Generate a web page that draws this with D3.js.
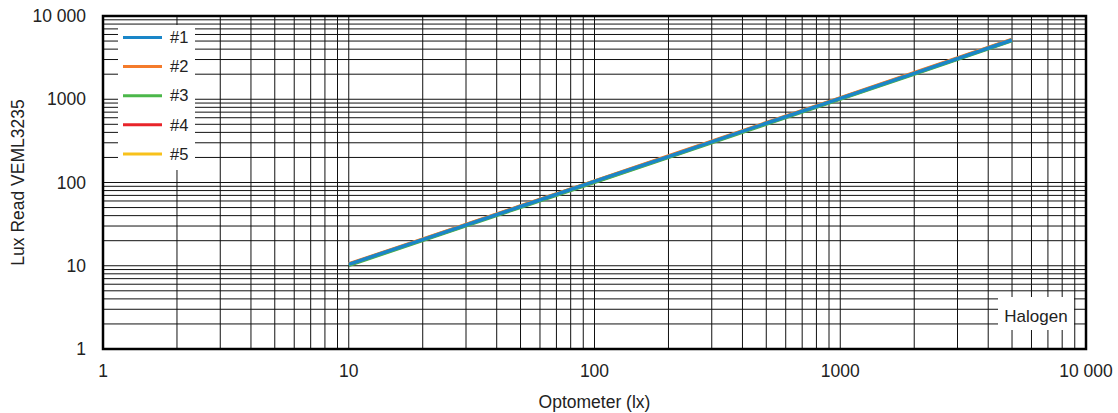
<!DOCTYPE html>
<html>
<head>
<meta charset="utf-8">
<script src="https://cdn.jsdelivr.net/npm/d3@7"></script>
<style>
  body { margin: 0; background: #fff; }
  text { font-family: "Liberation Sans", Arial, sans-serif; fill: #222; }
</style>
</head>
<body>
<div id="chart"></div>
<script>
const optometer = [10, 20, 50, 100, 200, 500, 1000, 2000, 5000];
const series1 = [10.4, 20.6, 51.5, 103, 205, 515, 1025, 2050, 5150];
const series2 = [10.5, 20.9, 52.2, 104, 208, 522, 1040, 2085, 5230];
const series3 = [10.1, 20.2, 50.4, 100.5, 201, 503, 1005, 2010, 5050];
const series4 = [10.3, 20.5, 51.2, 102, 204, 512, 1020, 2040, 5120];
const series5 = [10.4, 20.7, 51.8, 103.5, 206, 518, 1032, 2065, 5190];
const seriesNames = ["#1", "#2", "#3", "#4", "#5"];
const seriesColors = ["#1a86c8", "#f47b2b", "#4bb74a", "#e8242a", "#f8c11b"];
const ticks = [1, 10, 100, 1000, 10000];

const width = 1118, height = 413;
const margin = { top: 16, right: 32, bottom: 64, left: 103 };

const svg = d3.select("#chart").append("svg")
  .attr("width", width)
  .attr("height", height);

const x = d3.scaleLog().domain([1, 10000]).range([margin.left, width - margin.right]);
const y = d3.scaleLog().domain([1, 10000]).range([height - margin.bottom, margin.top]);

const fmt = d => d >= 10000 ? "10 000" : String(d);

// grid: every 1..9 x decade
const gridVals = [];
for (let e = 0; e < 4; e++) {
  for (let m = 1; m < 10; m++) gridVals.push(m * Math.pow(10, e));
}
gridVals.push(10000);

const grid = svg.append("g").attr("stroke", "#111").attr("stroke-width", 1);
grid.selectAll(".gx").data(gridVals).join("line")
  .attr("x1", d => x(d)).attr("x2", d => x(d))
  .attr("y1", y(1)).attr("y2", y(10000));
grid.selectAll(".gy").data(gridVals).join("line")
  .attr("y1", d => y(d)).attr("y2", d => y(d))
  .attr("x1", x(1)).attr("x2", x(10000));

// series lines
const allSeries = [series1, series2, series3, series4, series5];
const line = d3.line()
  .x((d, i) => x(optometer[i]))
  .y(d => y(d));

// draw in reverse so #1 is on top
allSeries.map((s, i) => ({ s, i })).reverse().forEach(({ s, i }) => {
  svg.append("path")
    .datum(s)
    .attr("fill", "none")
    .attr("stroke", seriesColors[i])
    .attr("stroke-width", 3.5)
    .attr("d", line);
});

// legend
const legend = svg.append("g");
legend.append("rect")
  .attr("x", 118).attr("y", 25).attr("width", 77).attr("height", 145)
  .attr("fill", "#fff");
seriesNames.forEach((name, i) => {
  const ly = 37.5 + i * 29.1;
  legend.append("line")
    .attr("x1", 123).attr("x2", 162)
    .attr("y1", ly).attr("y2", ly)
    .attr("stroke", seriesColors[i]).attr("stroke-width", 3);
  legend.append("text")
    .attr("x", 170).attr("y", ly)
    .attr("dy", "0.35em")
    .attr("font-size", 16.5)
    .text(name);
});

// Halogen label
svg.append("rect")
  .attr("x", 998).attr("y", 297).attr("width", 76).attr("height", 33)
  .attr("fill", "#fff");
svg.append("text")
  .attr("x", 1036).attr("y", 322)
  .attr("text-anchor", "middle")
  .attr("font-size", 17)
  .text("Halogen");

// frame
svg.append("rect")
  .attr("x", x(1)).attr("y", y(10000))
  .attr("width", x(10000) - x(1)).attr("height", y(1) - y(10000))
  .attr("fill", "none").attr("stroke", "#000").attr("stroke-width", 2.5);

// tick labels
svg.append("g").selectAll("text").data(ticks).join("text")
  .attr("x", d => x(d)).attr("y", y(1) + 28)
  .attr("text-anchor", "middle")
  .attr("font-size", 17.5)
  .text(fmt);
svg.append("g").selectAll("text").data(ticks).join("text")
  .attr("x", margin.left - 17).attr("y", d => y(d))
  .attr("dy", "0.35em")
  .attr("text-anchor", "end")
  .attr("font-size", 17.5)
  .text(fmt);

// axis titles
svg.append("text")
  .attr("x", (x(1) + x(10000)) / 2).attr("y", 408)
  .attr("text-anchor", "middle")
  .attr("font-size", 17.5)
  .text("Optometer (lx)");
svg.append("text")
  .attr("transform", `translate(24,${(y(1) + y(10000)) / 2}) rotate(-90)`)
  .attr("text-anchor", "middle")
  .attr("font-size", 17.5)
  .text("Lux Read VEML3235");
</script>
</body>
</html>
